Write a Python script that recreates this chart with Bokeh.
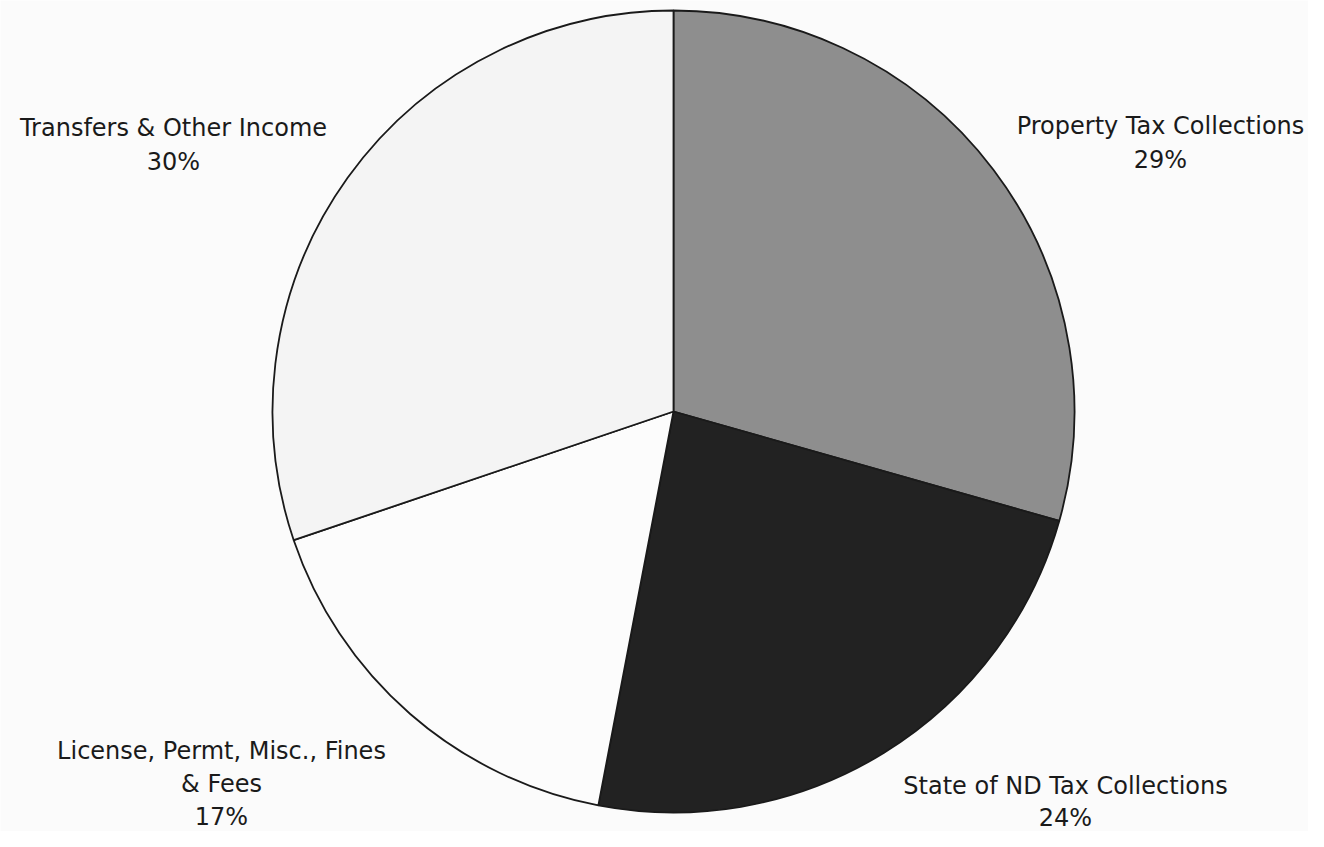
import numpy as np
from bokeh.plotting import figure
from bokeh.models import Range1d, ColumnDataSource
from bokeh.core.properties import value
from bokeh.embed import file_html
from bokeh.resources import INLINE

# Data (percent shares, clockwise from 12 o'clock)
categories = ["Property Tax Collections", "State of ND Tax Collections",
              "License, Permt, Misc., Fines & Fees", "Transfers & Other Income"]
shares = [29.4, 23.6, 16.8, 30.2]
pct_labels = ["29%", "24%", "17%", "30%"]
colors = ["#8e8e8e", "#222222", "#fcfcfc", "#f4f4f4"]

# label layout (pixel coordinates from the top-left: centre x, first baseline)
label_lines = [["Property Tax Collections", "29%"],
               ["State of ND Tax Collections", "24%"],
               ["License, Permt, Misc., Fines", "& Fees", "17%"],
               ["Transfers & Other Income", "30%"]]
label_x = [1160, 1065, 221, 173]
label_y0 = [125, 785, 750, 127]
line_gap = [34, 32, 33, 34]

W, H = 1308, 831
cx, cy_top, r = 673, 411, 401

def Y(y_top):
    return H - y_top

frac = np.array(shares) / np.sum(shares)
cum = np.concatenate([[0], np.cumsum(frac)])
start = np.pi / 2 - cum[:-1] * 2 * np.pi
end = np.pi / 2 - cum[1:] * 2 * np.pi

src = ColumnDataSource(dict(start=start, end=end, color=colors, cat=categories))

p = figure(width=W, height=H, output_backend="svg", toolbar_location=None,
           x_range=Range1d(0, W), y_range=Range1d(0, H),
           min_border=0, background_fill_color="#fbfbfb", border_fill_color="#fbfbfb")
p.axis.visible = False
p.grid.visible = False
p.outline_line_color = None

p.wedge(x=cx, y=Y(cy_top), radius=r, start_angle="start", end_angle="end",
        direction="clock", fill_color="color", line_color="#1a1a1a",
        line_width=1.8, source=src)

tx, ty, tt = [], [], []
for lines, x, y0, g in zip(label_lines, label_x, label_y0, line_gap):
    for i, t in enumerate(lines):
        tx.append(x)
        ty.append(Y(y0 + i * g))
        tt.append(t)

p.text(x=tx, y=ty, text=tt, text_font=value("DejaVu Sans"), text_font_size="24px",
       text_align="center", text_baseline="alphabetic", text_color="#1a1a1a")

open("out.html", "w").write(file_html(p, INLINE))
